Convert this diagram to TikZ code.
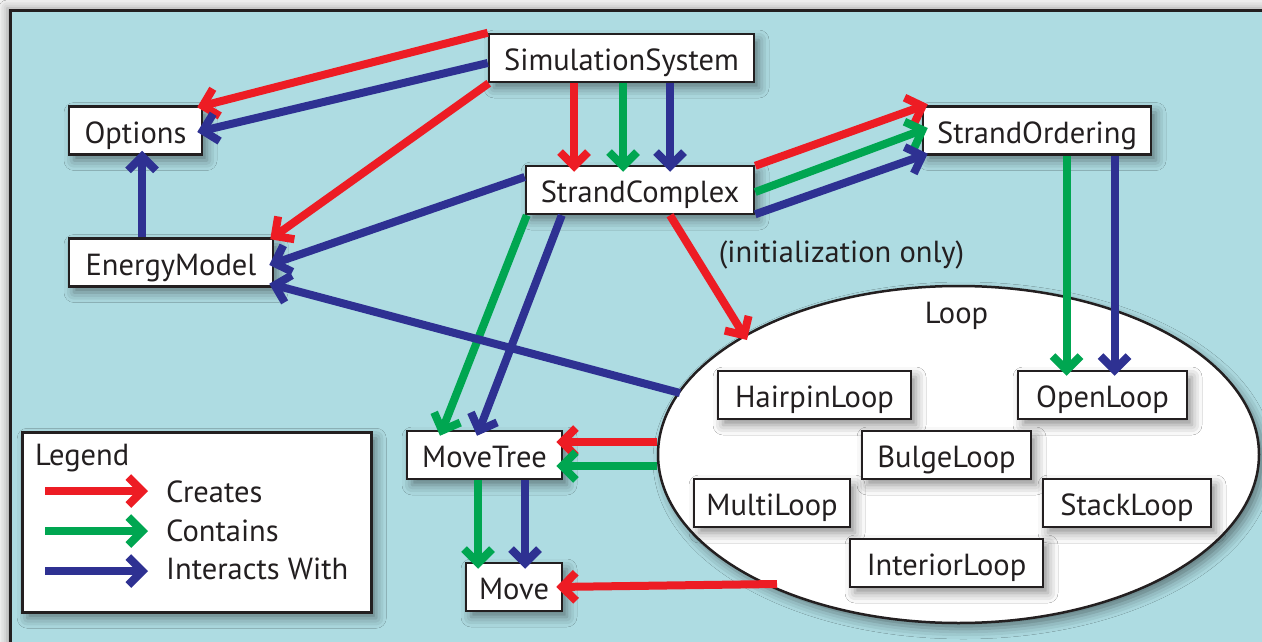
\documentclass[tikz,border=0pt]{standalone}
\usepackage{fontspec}
\setmainfont{PT Sans}
\usetikzlibrary{arrows.meta,shapes.geometric,shadows.blur}
\definecolor{cred}{HTML}{ED1C24}
\definecolor{cgreen}{HTML}{00A651}
\definecolor{cblue}{HTML}{2E3192}
\definecolor{panel}{HTML}{AEDCE2}
\definecolor{ink}{HTML}{231F20}
\definecolor{outer}{HTML}{F2F2F2}
\tikzset{
  softshadow/.style={blur shadow={shadow xshift=5pt, shadow yshift=-6pt, shadow blur radius=10pt, shadow opacity=45}},
  cls/.style={draw=ink, line width=2.5pt, fill=white, minimum height=48pt, inner sep=0pt,
    text height=29pt, text depth=4pt, softshadow},
  arr/.style={line width=8pt, -{Straight Barb[length=14pt,width=28pt]}},
  cr/.style={arr, draw=cred},
  cg/.style={arr, draw=cgreen},
  cb/.style={arr, draw=cblue},
  lbl/.style={inner sep=0pt, anchor=base}
}
\begin{document}
\begin{tikzpicture}[x=1pt, y=-1pt, font=\fontsize{30.5}{36}\selectfont, color=ink]
\useasboundingbox (0,0) rectangle (1262,642);
\clip (0,0) rectangle (1262,642);
\fill[outer] (0,0) rectangle (1262,642);
\path[fill=panel, draw=ink, line width=3pt, blur shadow={shadow xshift=-3pt, shadow yshift=3pt, shadow blur radius=8pt, shadow opacity=35}] (10,11) rectangle (1290,680);

% classes
\node[cls, minimum width=265pt] (ss) at (621.5,58) {SimulationSystem};
\node[cls, minimum width=133pt] (opt) at (135.5,130.5) {Options};
\node[cls, minimum width=228pt] (so) at (1037,130.5) {StrandOrdering};
\node[cls, minimum width=228pt] (sc) at (640,190) {StrandComplex};
\node[cls, minimum width=204pt] (em) at (171,262.5) {EnergyModel};
\node[cls, minimum width=155pt] (mt) at (484.5,455) {MoveTree};
\node[cls, minimum width=96pt] (mv) at (514,587) {Move};
\node[lbl] (init) at (841.5,262) {(initialization only)};

% loop ellipse
\node[ellipse, draw=ink, line width=2.5pt, fill=white, minimum width=601pt, minimum height=337pt, inner sep=0pt, softshadow] (loop) at (958.5,454.5) {};
\node[lbl] (looplbl) at (956.5,323) {Loop};
\node[cls, minimum width=193pt] (hp) at (814.5,395) {HairpinLoop};
\node[cls, minimum width=169pt] (ol) at (1102.5,395) {OpenLoop};
\node[cls, minimum width=169pt] (bl) at (946.5,455) {BulgeLoop};
\node[cls, minimum width=156pt] (ml) at (772,503) {MultiLoop};
\node[cls, minimum width=168pt] (st) at (1127,503) {StackLoop};
\node[cls, minimum width=193pt] (il) at (946.5,563) {InteriorLoop};

% legend
\node[draw=ink, line width=2.5pt, fill=white, minimum width=349pt, minimum height=180pt, inner sep=0pt, anchor=north west, softshadow] (legend) at (21,431) {};
\node[lbl, anchor=base west] (lgt) at (35,465) {Legend};
\node[lbl, anchor=base west] (lc1) at (166,502) {Creates};
\node[lbl, anchor=base west] (lc2) at (166,541) {Contains};
\node[lbl, anchor=base west] (lc3) at (166,579) {Interacts With};
\coordinate (ls1) at (45,491);
\coordinate (ls2) at (45,531);
\coordinate (ls3) at (45,571);
\draw[cr] (ls1) -- ([shift={(-18,-11)}]lc1.base west);
\draw[cg] (ls2) -- ([shift={(-18,-10)}]lc2.base west);
\draw[cb] (ls3) -- ([shift={(-18,-8)}]lc3.base west);

% SimulationSystem arrows
\draw[cr] ([shift={(0,0)}]ss.north west) -- ([shift={(-6,2)}]opt.north east);
\draw[cb] ([shift={(0,5)}]ss.west) -- ([shift={(-6,1.5)}]opt.east);
\draw[cr] ([shift={(1,0)}]ss.south west) -- ([shift={(-4,2)}]em.north east);
\draw[cr] ([shift={(-47.5,0)}]ss.south) -- ([shift={(-66,7)}]sc.north);
\draw[cg] ([shift={(1.5,0)}]ss.south) -- ([shift={(-17,7)}]sc.north);
\draw[cb] ([shift={(48.5,0)}]ss.south) -- ([shift={(30,7)}]sc.north);

% EnergyModel -> Options
\draw[cb] ([shift={(-29,0)}]em.north) -- ([shift={(6.5,-5)}]opt.south);

% StrandComplex arrows
\draw[cr] ([shift={(0,1)}]sc.north east) -- ([shift={(6,-1)}]so.north west);
\draw[cg] ([shift={(0,2)}]sc.east) -- ([shift={(6,-2.5)}]so.west);
\draw[cb] ([shift={(0,-1)}]sc.south east) -- ([shift={(6,-2)}]so.south west);
\draw[cb] ([shift={(0,-13)}]sc.west) -- ([shift={(-5,2.5)}]em.east);
\draw[cg] ([shift={(2,0)}]sc.south west) -- ([shift={(-44.5,6)}]mt.north);
\draw[cb] ([shift={(37,0)}]sc.south west) -- ([shift={(-7.5,6)}]mt.north);
\draw[cr] ([shift={(30,0)}]sc.south) -- ([shift={(-211.5,-114.5)}]loop.center);

% StrandOrdering -> OpenLoop
\draw[cg] ([shift={(29.5,0)}]so.south) -- ([shift={(-36,6)}]ol.north);
\draw[cb] ([shift={(77.5,0)}]so.south) -- ([shift={(12,6)}]ol.north);

% Loop arrows
\draw[cb] ([shift={(-278.5,-61.5)}]loop.center) -- ([shift={(-5,-4)}]em.south east);
\draw[cr] ([shift={(0,-12.5)}]loop.west) -- ([shift={(-7,-13)}]mt.east);
\draw[cg] ([shift={(0,11.5)}]loop.west) -- ([shift={(-7,11)}]mt.east);
\draw[cr] ([shift={(-181.5,129.5)}]loop.center) -- ([shift={(-7,0)}]mv.east);

% MoveTree -> Move
\draw[cg] ([shift={(-6.5,0)}]mt.south) -- ([shift={(-36,7)}]mv.north);
\draw[cb] ([shift={(40.5,0)}]mt.south) -- ([shift={(11,7)}]mv.north);
\end{tikzpicture}
\end{document}
